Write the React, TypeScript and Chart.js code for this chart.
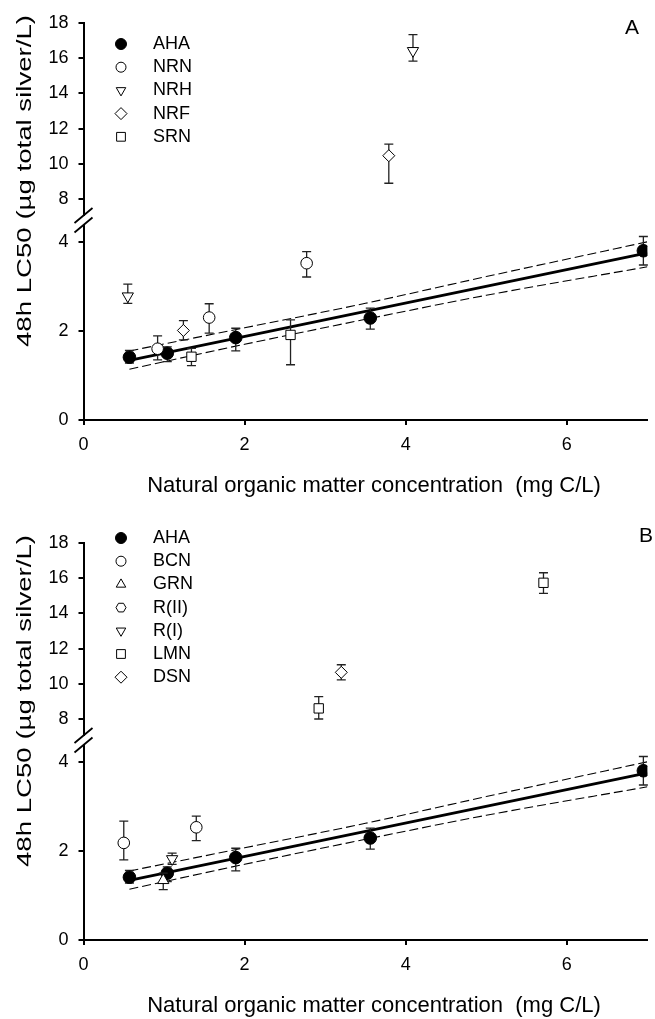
import React, { useEffect, useRef } from 'react';
import { Chart, registerables } from 'chart.js';
Chart.register(...registerables);

// [x, y, lower end of error bar, upper end of error bar]
type Pt = [number, number, number, number];

const X_TICKS = [0, 2, 4, 6];
const Y_LOW_TICKS = [0, 2, 4];
const Y_HIGH_TICKS = [8, 10, 12, 14, 16, 18];

const X_TITLE = 'Natural organic matter concentration  (mg C/L)';
const Y_TITLE = '48h LC50 (\u00b5g total silver/L)';

// Panel A
const A_AHA: Pt[] = [
  [0.57, 1.41, 1.28, 1.56],
  [1.04, 1.5, 1.31, 1.64],
  [1.89, 1.85, 1.55, 2.06],
  [3.56, 2.29, 2.04, 2.51],
  [6.95, 3.8, 3.48, 4.12],
];
const A_NRN: Pt[] = [
  [0.92, 1.6, 1.35, 1.89],
  [1.56, 2.3, 1.95, 2.61],
  [2.77, 3.52, 3.21, 3.78],
];
const A_NRH: Pt[] = [
  [0.55, 2.78, 2.62, 3.05],
  [4.09, 16.41, 15.83, 17.32],
];
const A_NRF: Pt[] = [
  [1.24, 2.01, 1.8, 2.23],
  [3.79, 10.47, 8.91, 11.13],
];
const A_SRN: Pt[] = [
  [1.34, 1.42, 1.22, 1.61],
  [2.57, 1.91, 1.24, 2.25],
];

// Panel B
const B_AHA: Pt[] = A_AHA;
const B_BCN: Pt[] = [
  [0.5, 2.18, 1.8, 2.67],
  [1.4, 2.53, 2.23, 2.78],
];
const B_GRN: Pt[] = [[0.99, 1.34, 1.13, 1.5]];
const B_RII: Pt[] = [];
const B_RI: Pt[] = [[1.1, 1.82, 1.7, 1.95]];
const B_LMN: Pt[] = [
  [2.92, 8.62, 8.02, 9.28],
  [5.71, 15.73, 15.13, 16.3],
];
const B_DSN: Pt[] = [[3.2, 10.66, 10.23, 11.09]];

// AHA regression line and its confidence band
const REG_X = [0.57, 7.0];
const REG_Y = [1.34, 3.75];
const BAND_X = [0.57, 2, 3.5, 5, 7];
const BAND_UPPER = [1.55, 2.07, 2.62, 3.22, 4.0];
const BAND_LOWER = [1.14, 1.7, 2.26, 2.8, 3.44];

// axis break limits
const LOW_MAX = 4.49;
const HIGH_MIN = 6.83;

const FONT = "'Liberation Sans', Arial, Helvetica, sans-serif";

type Sym = { label: string; style: string; rot: number; filled: boolean; r: number; lr: number; data: Pt[] };

const A_SERIES: Sym[] = [
  { label: 'AHA', style: 'circle', rot: 0, filled: true, r: 6.3, lr: 5.5, data: A_AHA },
  { label: 'NRN', style: 'circle', rot: 0, filled: false, r: 5.8, lr: 5, data: A_NRN },
  { label: 'NRH', style: 'triangle', rot: 180, filled: false, r: 6.5, lr: 5.5, data: A_NRH },
  { label: 'NRF', style: 'rectRot', rot: 0, filled: false, r: 6, lr: 6, data: A_NRF },
  { label: 'SRN', style: 'rect', rot: 0, filled: false, r: 6.6, lr: 6.2, data: A_SRN },
];
const B_SERIES: Sym[] = [
  { label: 'AHA', style: 'circle', rot: 0, filled: true, r: 6.3, lr: 5.5, data: B_AHA },
  { label: 'BCN', style: 'circle', rot: 0, filled: false, r: 5.8, lr: 5, data: B_BCN },
  { label: 'GRN', style: 'triangle', rot: 0, filled: false, r: 6.5, lr: 5.5, data: B_GRN },
  { label: 'R(II)', style: 'hexagon', rot: 0, filled: false, r: 5.8, lr: 5, data: B_RII },
  { label: 'R(I)', style: 'triangle', rot: 180, filled: false, r: 6.5, lr: 5.5, data: B_RI },
  { label: 'LMN', style: 'rect', rot: 0, filled: false, r: 6.6, lr: 6.2, data: B_LMN },
  { label: 'DSN', style: 'rectRot', rot: 0, filled: false, r: 6, lr: 6, data: B_DSN },
];

function symPath(ctx: CanvasRenderingContext2D, style: string, x: number, y: number, r: number, rot: number) {
  ctx.beginPath();
  if (style === 'circle') {
    ctx.arc(x, y, r, 0, Math.PI * 2);
  } else if (style === 'triangle') {
    let a = (rot * Math.PI) / 180;
    ctx.moveTo(x + Math.sin(a) * r, y - Math.cos(a) * r);
    a += (2 * Math.PI) / 3;
    ctx.lineTo(x + Math.sin(a) * r, y - Math.cos(a) * r);
    a += (2 * Math.PI) / 3;
    ctx.lineTo(x + Math.sin(a) * r, y - Math.cos(a) * r);
    ctx.closePath();
  } else if (style === 'rect') {
    const s = r * Math.SQRT1_2;
    ctx.rect(x - s, y - s, 2 * s, 2 * s);
  } else if (style === 'rectRot') {
    ctx.moveTo(x - r, y);
    ctx.lineTo(x, y - r);
    ctx.lineTo(x + r, y);
    ctx.lineTo(x, y + r);
    ctx.closePath();
  } else if (style === 'hexagon') {
    for (let i = 0; i < 6; i++) {
      const a = (i * Math.PI) / 3;
      const px = x + Math.cos(a) * r;
      const py = y + Math.sin(a) * r;
      if (i === 0) ctx.moveTo(px, py);
      else ctx.lineTo(px, py);
    }
    ctx.closePath();
  }
}

const errorBars = {
  id: 'errorBars',
  beforeDatasetDraw(chart: any, args: any) {
    const ds = chart.data.datasets[args.index];
    if (!ds.errLo) return;
    const meta = args.meta;
    const ys = chart.scales[meta.yAxisID];
    const ctx = chart.ctx as CanvasRenderingContext2D;
    ctx.save();
    ctx.strokeStyle = '#222';
    ctx.lineWidth = 1.3;
    ds.data.forEach((_p: any, i: number) => {
      const el = meta.data[i];
      if (!el) return;
      const x = el.x;
      const y1 = ys.getPixelForValue(ds.errLo[i]);
      const y2 = ys.getPixelForValue(ds.errHi[i]);
      ctx.beginPath();
      ctx.moveTo(x, y1);
      ctx.lineTo(x, y2);
      ctx.moveTo(x - 4.5, y1);
      ctx.lineTo(x + 4.5, y1);
      ctx.moveTo(x - 4.5, y2);
      ctx.lineTo(x + 4.5, y2);
      ctx.stroke();
    });
    ctx.restore();
  },
};

function makeDecor(series: Sym[], legendTop: number, letter: string, letterX: number, letterY: number) {
  return {
    id: 'decor' + letter,
    afterDraw(chart: any) {
      const ctx = chart.ctx as CanvasRenderingContext2D;
      const ca = chart.chartArea;
      // axis break
      const yb = chart.scales.yLow.top;
      const x0 = ca.left;
      ctx.save();
      ctx.fillStyle = '#fff';
      ctx.fillRect(x0 - 2, yb - 4, 4, 8);
      ctx.strokeStyle = '#000';
      ctx.lineWidth = 1.8;
      ctx.beginPath();
      ctx.moveTo(x0 - 9, yb - 4.5 + 7.5);
      ctx.lineTo(x0 + 9, yb - 4.5 - 7.5);
      ctx.moveTo(x0 - 9, yb + 5 + 7.5);
      ctx.lineTo(x0 + 9, yb + 5 - 7.5);
      ctx.stroke();
      // legend
      ctx.font = '18px ' + FONT;
      ctx.textBaseline = 'middle';
      ctx.textAlign = 'left';
      series.forEach((s, i) => {
        const y = legendTop + i * 23.2;
        symPath(ctx, s.style, 121, y, s.lr, s.rot);
        ctx.fillStyle = s.filled ? '#000' : '#fff';
        ctx.fill();
        ctx.lineWidth = 1;
        ctx.strokeStyle = '#000';
        ctx.stroke();
        ctx.fillStyle = '#000';
        ctx.fillText(s.label, 153, y);
      });
      // panel letter
      ctx.font = '21px ' + FONT;
      ctx.textAlign = 'center';
      ctx.fillText(letter, letterX, letterY);
      // x title
      ctx.font = '22px ' + FONT;
      ctx.fillText(X_TITLE, 374, 486);
      // y title (stretched along its length)
      ctx.font = '20px ' + FONT;
      const w = ctx.measureText(Y_TITLE).width;
      ctx.translate(25, 181);
      ctx.rotate(-Math.PI / 2);
      ctx.scale(332 / w, 1);
      ctx.fillText(Y_TITLE, 0, 0);
      ctx.restore();
    },
  };
}

function buildConfig(series: Sym[], legendTop: number, letter: string, lx: number, ly: number): any {
  const datasets: any[] = [];
  series.forEach((s, si) => {
    const low = s.data.filter((p) => p[1] <= LOW_MAX);
    const high = s.data.filter((p) => p[1] > LOW_MAX);
    [
      { pts: low, axis: 'yLow' },
      { pts: high, axis: 'yHigh' },
    ].forEach(({ pts, axis }) => {
      if (!pts.length) return;
      datasets.push({
        label: s.label,
        yAxisID: axis,
        data: pts.map((p) => ({ x: p[0], y: p[1] })),
        errLo: pts.map((p) => p[2]),
        errHi: pts.map((p) => p[3]),
        pointStyle: s.style === 'hexagon' ? 'circle' : s.style,
        rotation: s.rot,
        pointRadius: s.r,
        pointBackgroundColor: s.filled ? '#000' : '#fff',
        pointBorderColor: '#000',
        pointBorderWidth: 1,
        showLine: false,
        order: si === 0 ? 1 : 0,
      });
    });
  });
  datasets.push({
    label: 'reg',
    yAxisID: 'yLow',
    data: REG_X.map((x, i) => ({ x, y: REG_Y[i] })),
    showLine: true,
    borderColor: '#000',
    borderWidth: 2.8,
    pointRadius: 0,
    order: 10,
  });
  datasets.push({
    label: 'upper',
    yAxisID: 'yLow',
    data: BAND_X.map((x, i) => ({ x, y: BAND_UPPER[i] })),
    showLine: true,
    borderColor: '#000',
    borderWidth: 1.1,
    borderDash: [9, 4],
    cubicInterpolationMode: 'monotone',
    pointRadius: 0,
    order: 10,
  });
  datasets.push({
    label: 'lower',
    yAxisID: 'yLow',
    data: BAND_X.map((x, i) => ({ x, y: BAND_LOWER[i] })),
    showLine: true,
    borderColor: '#000',
    borderWidth: 1.1,
    borderDash: [9, 4],
    cubicInterpolationMode: 'monotone',
    pointRadius: 0,
    order: 10,
  });

  const tickFont = { family: FONT, size: 18 };
  const yCommon = {
    type: 'linear',
    position: 'left',
    stack: 'ystack',
    offset: false,
    afterFit: (s: any) => {
      s.width = 83.5;
    },
    ticks: { color: '#000', font: tickFont, padding: 10 },
    grid: { drawOnChartArea: false, drawTicks: true, tickLength: 5, color: '#000', lineWidth: 2 },
    border: { display: true, color: '#000', width: 2 },
  };

  return {
    type: 'scatter',
    data: { datasets },
    options: {
      animation: false,
      responsive: false,
      devicePixelRatio: 1,
      layout: { padding: { top: 22.7, right: 2.4, bottom: 0, left: 0 } },
      plugins: { legend: { display: false }, tooltip: { enabled: false } },
      scales: {
        x: {
          type: 'linear',
          position: 'bottom',
          min: 0,
          max: 7,
          afterBuildTicks: (s: any) => {
            s.ticks = X_TICKS.map((v) => ({ value: v }));
          },
          afterFit: (s: any) => {
            s.height = 100;
          },
          ticks: { color: '#000', font: tickFont, padding: 9 },
          grid: { drawOnChartArea: false, drawTicks: true, tickLength: 5, color: '#000', lineWidth: 2 },
          border: { display: true, color: '#000', width: 2 },
          title: { display: false },
        },
        yHigh: {
          ...yCommon,
          weight: 2,
          stackWeight: 197.3,
          min: HIGH_MIN,
          max: 18,
          afterBuildTicks: (s: any) => {
            s.ticks = Y_HIGH_TICKS.map((v) => ({ value: v }));
          },
        },
        yLow: {
          ...yCommon,
          weight: 1,
          stackWeight: 200,
          min: 0,
          max: LOW_MAX,
          afterBuildTicks: (s: any) => {
            s.ticks = Y_LOW_TICKS.map((v) => ({ value: v }));
          },
        },
      },
    },
    plugins: [errorBars, makeDecor(series, legendTop, letter, lx, ly)],
  };
}

function Panel(props: { series: Sym[]; legendTop: number; letter: string; lx: number; ly: number; top: number }) {
  const ref = useRef<HTMLCanvasElement | null>(null);
  useEffect(() => {
    if (!ref.current) return;
    const chart = new Chart(ref.current, buildConfig(props.series, props.legendTop, props.letter, props.lx, props.ly));
    return () => chart.destroy();
  }, []);
  return (
    <canvas
      ref={ref}
      width={655}
      height={520}
      style={{ position: 'absolute', left: 0, top: props.top, width: 655, height: 520 }}
    />
  );
}

export default function App() {
  return (
    <div
      style={{
        position: 'fixed',
        left: 0,
        top: 0,
        width: 655,
        height: 1019,
        overflow: 'hidden',
        background: '#fff',
      }}
    >
      <Panel series={A_SERIES} legendTop={44} letter="A" lx={632} ly={28} top={0} />
      <Panel series={B_SERIES} legendTop={18} letter="B" lx={646} ly={16} top={520} />
    </div>
  );
}
